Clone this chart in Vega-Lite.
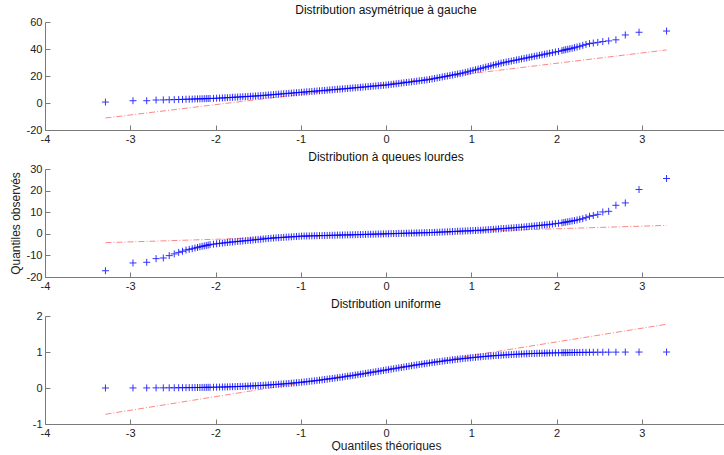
{
"$schema":"https://vega.github.io/schema/vega-lite/v6.json",
"padding":{"left":9,"top":4,"right":0,"bottom":0},
"background":"white",
"config":{"view":{"stroke":null},"font":"Liberation Sans",
"axis":{"grid":false,"domainColor":"#7a7a7a","tickColor":"#7a7a7a","labelColor":"#222222","labelFont":"Liberation Sans","labelFontSize":11,"tickSize":-5,"labelPadding":8,"titleFont":"Liberation Sans","titleFontSize":12,"titleFontWeight":"normal","titleColor":"#222222","domainWidth":1,"tickWidth":1,"labelFlush":false,"labelOverlap":false,"labelExpr":"'' + datum.value"},
"title":{"font":"Liberation Sans","fontSize":12,"fontWeight":"normal","color":"#111111","offset":-1}},
"spacing":39,
"bounds":"flush",
"datasets":{
"pts":[
{"x":-3.291,"a":0.7,"b":-17.1,"c":0.0005},
{"x":-2.968,"a":1.7,"b":-13.5,"c":0.0015},
{"x":-2.807,"a":1.7,"b":-13.2,"c":0.0025},
{"x":-2.697,"a":2.2,"b":-11.5,"c":0.0035},
{"x":-2.612,"a":2.3,"b":-11.2,"c":0.0045},
{"x":-2.543,"a":2.4,"b":-10.1,"c":0.0055},
{"x":-2.484,"a":2.5,"b":-9.3,"c":0.0065},
{"x":-2.432,"a":2.6,"b":-8.6,"c":0.0075},
{"x":-2.387,"a":2.7,"b":-8.1,"c":0.0085},
{"x":-2.346,"a":2.8,"b":-7.5,"c":0.0095},
{"x":-2.308,"a":2.85,"b":-7.2,"c":0.0105},
{"x":-2.273,"a":2.9,"b":-6.9,"c":0.0115},
{"x":-2.241,"a":3.0,"b":-6.6,"c":0.0125},
{"x":-2.211,"a":3.05,"b":-6.3,"c":0.0135},
{"x":-2.183,"a":3.1,"b":-6.0,"c":0.0145},
{"x":-2.157,"a":3.15,"b":-5.8,"c":0.0155},
{"x":-2.132,"a":3.2,"b":-5.6,"c":0.0165},
{"x":-2.108,"a":3.25,"b":-5.4,"c":0.0175},
{"x":-2.086,"a":3.3,"b":-5.2,"c":0.0185},
{"x":-2.064,"a":3.35,"b":-5.0,"c":0.0195},
{"x":-2.024,"a":3.45,"b":-4.8,"c":0.0215},
{"x":-1.987,"a":3.55,"b":-4.6,"c":0.0235},
{"x":-1.952,"a":3.65,"b":-4.45,"c":0.0255},
{"x":-1.919,"a":3.75,"b":-4.3,"c":0.0275},
{"x":-1.889,"a":3.85,"b":-4.15,"c":0.0295},
{"x":-1.86,"a":3.95,"b":-4.00,"c":0.031},
{"x":-1.83,"a":4.06,"b":-3.89,"c":0.034},
{"x":-1.80,"a":4.18,"b":-3.78,"c":0.036},
{"x":-1.77,"a":4.29,"b":-3.66,"c":0.038},
{"x":-1.74,"a":4.40,"b":-3.55,"c":0.041},
{"x":-1.71,"a":4.51,"b":-3.44,"c":0.044},
{"x":-1.68,"a":4.63,"b":-3.32,"c":0.046},
{"x":-1.65,"a":4.74,"b":-3.21,"c":0.049},
{"x":-1.62,"a":4.85,"b":-3.09,"c":0.053},
{"x":-1.59,"a":4.96,"b":-2.97,"c":0.056},
{"x":-1.56,"a":5.08,"b":-2.86,"c":0.059},
{"x":-1.53,"a":5.19,"b":-2.74,"c":0.063},
{"x":-1.50,"a":5.30,"b":-2.62,"c":0.067},
{"x":-1.47,"a":5.46,"b":-2.51,"c":0.071},
{"x":-1.44,"a":5.61,"b":-2.39,"c":0.075},
{"x":-1.41,"a":5.77,"b":-2.27,"c":0.079},
{"x":-1.38,"a":5.92,"b":-2.16,"c":0.084},
{"x":-1.35,"a":6.08,"b":-2.04,"c":0.089},
{"x":-1.32,"a":6.24,"b":-1.95,"c":0.093},
{"x":-1.29,"a":6.39,"b":-1.87,"c":0.099},
{"x":-1.26,"a":6.55,"b":-1.79,"c":0.104},
{"x":-1.23,"a":6.70,"b":-1.71,"c":0.109},
{"x":-1.20,"a":6.86,"b":-1.63,"c":0.115},
{"x":-1.17,"a":7.02,"b":-1.55,"c":0.121},
{"x":-1.14,"a":7.17,"b":-1.47,"c":0.127},
{"x":-1.11,"a":7.33,"b":-1.39,"c":0.133},
{"x":-1.08,"a":7.48,"b":-1.31,"c":0.140},
{"x":-1.05,"a":7.64,"b":-1.23,"c":0.147},
{"x":-1.02,"a":7.80,"b":-1.15,"c":0.154},
{"x":-0.99,"a":7.95,"b":-1.08,"c":0.161},
{"x":-0.96,"a":8.11,"b":-1.04,"c":0.169},
{"x":-0.93,"a":8.26,"b":-1.01,"c":0.176},
{"x":-0.90,"a":8.42,"b":-0.98,"c":0.184},
{"x":-0.87,"a":8.58,"b":-0.95,"c":0.192},
{"x":-0.84,"a":8.73,"b":-0.91,"c":0.200},
{"x":-0.81,"a":8.89,"b":-0.88,"c":0.209},
{"x":-0.78,"a":9.04,"b":-0.85,"c":0.218},
{"x":-0.75,"a":9.20,"b":-0.82,"c":0.227},
{"x":-0.72,"a":9.36,"b":-0.78,"c":0.236},
{"x":-0.69,"a":9.51,"b":-0.75,"c":0.245},
{"x":-0.66,"a":9.67,"b":-0.72,"c":0.255},
{"x":-0.63,"a":9.82,"b":-0.69,"c":0.264},
{"x":-0.60,"a":9.98,"b":-0.65,"c":0.274},
{"x":-0.57,"a":10.14,"b":-0.62,"c":0.284},
{"x":-0.54,"a":10.29,"b":-0.59,"c":0.295},
{"x":-0.51,"a":10.45,"b":-0.56,"c":0.305},
{"x":-0.48,"a":10.61,"b":-0.53,"c":0.316},
{"x":-0.45,"a":10.78,"b":-0.49,"c":0.326},
{"x":-0.42,"a":10.95,"b":-0.46,"c":0.337},
{"x":-0.39,"a":11.12,"b":-0.44,"c":0.348},
{"x":-0.36,"a":11.28,"b":-0.40,"c":0.359},
{"x":-0.33,"a":11.45,"b":-0.37,"c":0.371},
{"x":-0.30,"a":11.62,"b":-0.34,"c":0.382},
{"x":-0.27,"a":11.79,"b":-0.30,"c":0.394},
{"x":-0.24,"a":11.96,"b":-0.27,"c":0.405},
{"x":-0.21,"a":12.12,"b":-0.24,"c":0.417},
{"x":-0.18,"a":12.29,"b":-0.20,"c":0.429},
{"x":-0.15,"a":12.46,"b":-0.17,"c":0.440},
{"x":-0.12,"a":12.63,"b":-0.14,"c":0.452},
{"x":-0.09,"a":12.80,"b":-0.10,"c":0.464},
{"x":-0.06,"a":12.96,"b":-0.07,"c":0.476},
{"x":-0.03,"a":13.13,"b":-0.04,"c":0.488},
{"x":0.00,"a":13.30,"b":0.00,"c":0.500},
{"x":0.03,"a":13.54,"b":0.03,"c":0.512},
{"x":0.06,"a":13.78,"b":0.07,"c":0.524},
{"x":0.09,"a":14.02,"b":0.10,"c":0.536},
{"x":0.12,"a":14.26,"b":0.13,"c":0.548},
{"x":0.15,"a":14.50,"b":0.17,"c":0.560},
{"x":0.18,"a":14.74,"b":0.20,"c":0.571},
{"x":0.21,"a":14.98,"b":0.24,"c":0.583},
{"x":0.24,"a":15.22,"b":0.27,"c":0.595},
{"x":0.27,"a":15.46,"b":0.30,"c":0.606},
{"x":0.30,"a":15.70,"b":0.34,"c":0.618},
{"x":0.33,"a":15.94,"b":0.37,"c":0.629},
{"x":0.36,"a":16.18,"b":0.40,"c":0.641},
{"x":0.39,"a":16.42,"b":0.44,"c":0.652},
{"x":0.42,"a":16.66,"b":0.47,"c":0.663},
{"x":0.45,"a":16.90,"b":0.50,"c":0.674},
{"x":0.48,"a":17.14,"b":0.54,"c":0.684},
{"x":0.51,"a":17.42,"b":0.57,"c":0.695},
{"x":0.54,"a":17.79,"b":0.60,"c":0.705},
{"x":0.57,"a":18.16,"b":0.66,"c":0.716},
{"x":0.60,"a":18.53,"b":0.71,"c":0.726},
{"x":0.63,"a":18.89,"b":0.77,"c":0.736},
{"x":0.66,"a":19.26,"b":0.82,"c":0.745},
{"x":0.69,"a":19.63,"b":0.88,"c":0.755},
{"x":0.72,"a":20.00,"b":0.94,"c":0.764},
{"x":0.75,"a":20.36,"b":0.99,"c":0.773},
{"x":0.78,"a":20.73,"b":1.05,"c":0.782},
{"x":0.81,"a":21.10,"b":1.10,"c":0.791},
{"x":0.84,"a":21.46,"b":1.16,"c":0.800},
{"x":0.87,"a":21.83,"b":1.22,"c":0.808},
{"x":0.90,"a":22.20,"b":1.27,"c":0.816},
{"x":0.93,"a":22.69,"b":1.33,"c":0.824},
{"x":0.96,"a":23.17,"b":1.38,"c":0.831},
{"x":0.99,"a":23.66,"b":1.44,"c":0.839},
{"x":1.02,"a":24.15,"b":1.50,"c":0.846},
{"x":1.05,"a":24.63,"b":1.55,"c":0.853},
{"x":1.08,"a":25.12,"b":1.61,"c":0.860},
{"x":1.11,"a":25.61,"b":1.66,"c":0.867},
{"x":1.14,"a":26.09,"b":1.73,"c":0.873},
{"x":1.17,"a":26.58,"b":1.82,"c":0.879},
{"x":1.20,"a":27.07,"b":1.91,"c":0.885},
{"x":1.23,"a":27.55,"b":2.00,"c":0.891},
{"x":1.26,"a":28.04,"b":2.09,"c":0.896},
{"x":1.29,"a":28.53,"b":2.18,"c":0.901},
{"x":1.32,"a":29.01,"b":2.27,"c":0.907},
{"x":1.35,"a":29.50,"b":2.36,"c":0.911},
{"x":1.38,"a":29.90,"b":2.44,"c":0.916},
{"x":1.41,"a":30.29,"b":2.53,"c":0.921},
{"x":1.44,"a":30.69,"b":2.62,"c":0.925},
{"x":1.47,"a":31.08,"b":2.71,"c":0.929},
{"x":1.50,"a":31.48,"b":2.80,"c":0.933},
{"x":1.53,"a":31.88,"b":2.89,"c":0.937},
{"x":1.56,"a":32.27,"b":2.98,"c":0.941},
{"x":1.59,"a":32.67,"b":3.07,"c":0.944},
{"x":1.62,"a":33.05,"b":3.19,"c":0.947},
{"x":1.65,"a":33.43,"b":3.30,"c":0.951},
{"x":1.68,"a":33.81,"b":3.42,"c":0.954},
{"x":1.71,"a":34.19,"b":3.53,"c":0.956},
{"x":1.74,"a":34.57,"b":3.65,"c":0.959},
{"x":1.77,"a":34.95,"b":3.76,"c":0.962},
{"x":1.80,"a":35.33,"b":3.88,"c":0.964},
{"x":1.83,"a":35.72,"b":3.99,"c":0.966},
{"x":1.86,"a":36.10,"b":4.11,"c":0.969},
{"x":1.889,"a":36.5,"b":4.2,"c":0.9705},
{"x":1.919,"a":36.9,"b":4.35,"c":0.9725},
{"x":1.952,"a":37.3,"b":4.5,"c":0.9745},
{"x":1.987,"a":37.8,"b":4.7,"c":0.9765},
{"x":2.024,"a":38.2,"b":4.85,"c":0.9785},
{"x":2.064,"a":38.8,"b":5.05,"c":0.9805},
{"x":2.086,"a":39.2,"b":5.25,"c":0.9815},
{"x":2.108,"a":39.5,"b":5.4,"c":0.9825},
{"x":2.132,"a":39.8,"b":5.55,"c":0.9835},
{"x":2.157,"a":40.2,"b":5.75,"c":0.9845},
{"x":2.183,"a":40.5,"b":5.95,"c":0.9855},
{"x":2.211,"a":41.0,"b":6.15,"c":0.9865},
{"x":2.241,"a":41.5,"b":6.4,"c":0.9875},
{"x":2.273,"a":42.0,"b":6.7,"c":0.9885},
{"x":2.308,"a":42.7,"b":7.0,"c":0.9895},
{"x":2.346,"a":43.4,"b":7.5,"c":0.9905},
{"x":2.387,"a":44.0,"b":8.1,"c":0.9915},
{"x":2.432,"a":44.4,"b":8.5,"c":0.9925},
{"x":2.484,"a":44.9,"b":9.0,"c":0.9935},
{"x":2.543,"a":45.5,"b":10.1,"c":0.9945},
{"x":2.612,"a":46.0,"b":10.4,"c":0.9955},
{"x":2.697,"a":46.8,"b":13.2,"c":0.9965},
{"x":2.807,"a":50.4,"b":14.3,"c":0.9975},
{"x":2.968,"a":52.4,"b":20.5,"c":0.9985},
{"x":3.291,"a":53.3,"b":25.6,"c":0.9995}
],
"ref":[
{"x":-3.291,"a":-11.1,"b":-4.1,"c":-0.73},
{"x":3.291,"a":39.3,"b":3.9,"c":1.77}
]},
"vconcat":[
{"width":682,"height":108,"title":"Distribution asymétrique à gauche",
"encoding":{"x":{"field":"x","type":"quantitative","scale":{"domain":[-4,4],"nice":false},"axis":{"values":[-4,-3,-2,-1,0,1,2,3,4],"title":null}},
"y":{"field":"a","type":"quantitative","scale":{"domain":[-20,60],"nice":false,"zero":false},"axis":{"values":[-20,0,20,40,60],"title":null}}},
"layer":[
{"data":{"name":"ref"},"mark":{"type":"line","color":"#ff3333","opacity":0.6,"strokeWidth":1,"strokeDash":[6,2,1,2]}},
{"data":{"name":"pts"},"mark":{"type":"point","shape":"M-1,0H1M0,-1V1","filled":false,"stroke":"#0000ff","strokeWidth":1,"size":49,"opacity":0.8}}
]},
{"width":682,"height":108,"title":"Distribution à queues lourdes",
"encoding":{"x":{"field":"x","type":"quantitative","scale":{"domain":[-4,4],"nice":false},"axis":{"values":[-4,-3,-2,-1,0,1,2,3,4],"title":null}},
"y":{"field":"b","type":"quantitative","scale":{"domain":[-20,30],"nice":false,"zero":false},"axis":{"values":[-20,-10,0,10,20,30],"title":"Quantiles observés","titlePadding":4}}},
"layer":[
{"data":{"name":"ref"},"mark":{"type":"line","color":"#ff3333","opacity":0.6,"strokeWidth":1,"strokeDash":[6,2,1,2]}},
{"data":{"name":"pts"},"mark":{"type":"point","shape":"M-1,0H1M0,-1V1","filled":false,"stroke":"#0000ff","strokeWidth":1,"size":49,"opacity":0.8}}
]},
{"width":682,"height":108,"title":"Distribution uniforme",
"encoding":{"x":{"field":"x","type":"quantitative","scale":{"domain":[-4,4],"nice":false},"axis":{"values":[-4,-3,-2,-1,0,1,2,3,4],"title":"Quantiles théoriques","titlePadding":2}},
"y":{"field":"c","type":"quantitative","scale":{"domain":[-1,2],"nice":false,"zero":false},"axis":{"values":[-1,0,1,2],"title":null}}},
"layer":[
{"data":{"name":"ref"},"mark":{"type":"line","color":"#ff3333","opacity":0.6,"strokeWidth":1,"strokeDash":[6,2,1,2]}},
{"data":{"name":"pts"},"mark":{"type":"point","shape":"M-1,0H1M0,-1V1","filled":false,"stroke":"#0000ff","strokeWidth":1,"size":49,"opacity":0.8}}
]}
]
}
